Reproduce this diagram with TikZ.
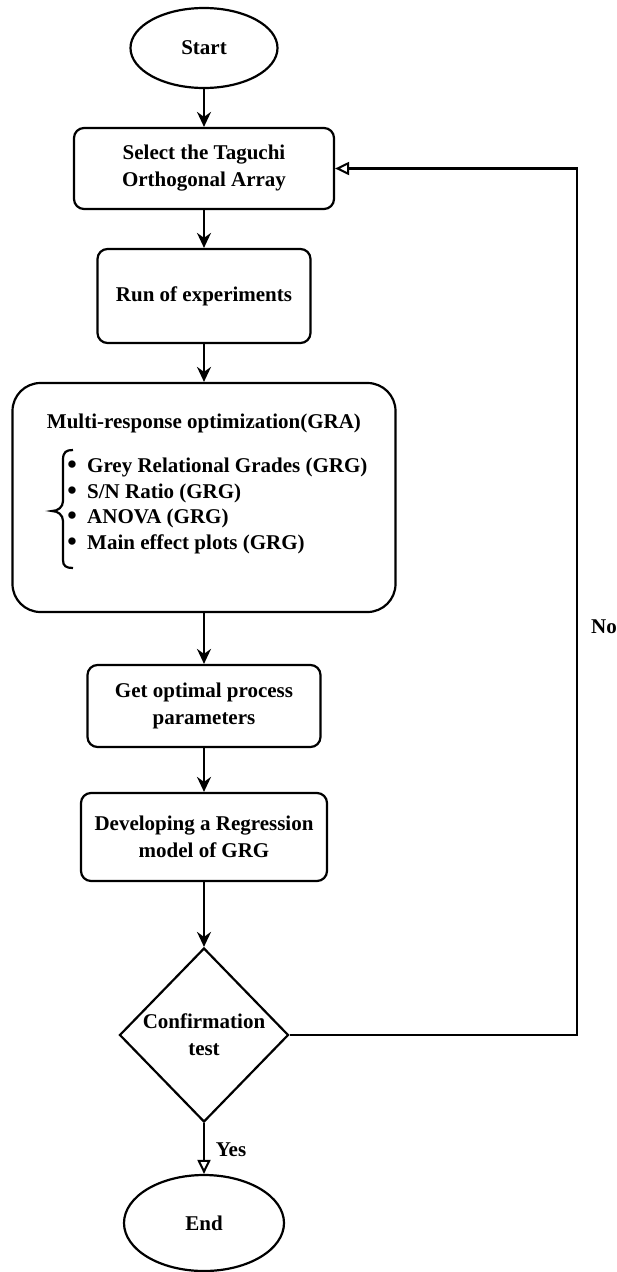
\documentclass[tikz,border=0pt]{standalone}
\usepackage{fontspec}
\setmainfont{Liberation Serif}
\usetikzlibrary{shapes.geometric,arrows.meta}
\begin{document}
\begin{tikzpicture}[x=1pt,y=-1pt,
  every node/.style={font=\fontsize{21}{27}\selectfont\bfseries},
  box/.style={draw,line width=2.2pt,rounded corners=10pt,inner sep=0pt,align=center},
  term/.style={draw,line width=2.2pt,ellipse,inner sep=0pt},
  decide/.style={draw,line width=2.2pt,diamond,inner sep=0pt,align=center},
  flow/.style={line width=2.2pt,-{Stealth[length=15pt,width=14pt,inset=5pt]}},
  back/.style={line width=2.2pt,-{Triangle[open,length=14pt,width=13pt,line width=2pt]}},
  lbl/.style={inner sep=0pt},
  bul/.style={inner sep=0pt,font=\fontsize{27}{27}\selectfont\bfseries}
]
\useasboundingbox (0,0) rectangle (616,1272);
\node[term,minimum width=147pt,minimum height=80pt] (start) at (204,48) {Start};
\node[box,minimum width=260pt,minimum height=81pt] (sel) at (204,168.5) {Select the Taguchi\\Orthogonal Array};
\node[box,minimum width=213pt,minimum height=94pt] (run) at (204,296) {Run of experiments};
\node[box,rounded corners=28pt,minimum width=383pt,minimum height=229pt] (gra) at (204,497.5) {};
\node[lbl] (gratitle) at (204,423) {Multi-response optimization(GRA)};
\node[bul] (b1) at (72,467) {\textbullet};
\node[bul] (b2) at (72,493) {\textbullet};
\node[bul] (b3) at (72,518) {\textbullet};
\node[bul] (b4) at (72,544) {\textbullet};
\node[lbl,anchor=west] (t1) at (87,467) {Grey Relational Grades (GRG)};
\node[lbl,anchor=west] (t2) at (87,493) {S/N Ratio (GRG)};
\node[lbl,anchor=west] (t3) at (87,518) {ANOVA (GRG)};
\node[lbl,anchor=west] (t4) at (87,544) {Main effect plots (GRG)};
\draw[line width=2.2pt] (73,450) .. controls (66,450) and (63,452) .. (63,460) -- (63,501)
  .. controls (63,507) and (58,511) .. (52,511) .. controls (58,511) and (63,515) .. (63,521)
  -- (63,560) .. controls (63,566) and (66,568) .. (73,568);
\node[box,minimum width=233pt,minimum height=82pt] (opt) at (204,706) {Get optimal process\\parameters};
\node[box,minimum width=246pt,minimum height=88pt] (dev) at (204,837) {Developing a Regression\\model of GRG};
\node[decide,minimum width=169pt,minimum height=174pt] (dia) at (204,1035) {Confirmation\\test};
\node[term,minimum width=160pt,minimum height=96pt] (end) at (204,1223) {End};
\coordinate (fb) at (577,168.5);
\draw[flow] (start) -- (sel);
\draw[flow] (sel) -- (run);
\draw[flow] (run) -- (gra);
\draw[flow] (gra) -- (opt);
\draw[flow] (opt) -- (dev);
\draw[flow] (dev) -- (dia);
\draw[back] (dia.east) -- (dia.east -| fb) -- (fb) -- (sel.east);
\draw[back] (dia.south) -- (end.north);
\node[lbl] (no) at (604,627) {No};
\node[lbl] (yes) at (231,1150) {Yes};
\end{tikzpicture}
\end{document}
